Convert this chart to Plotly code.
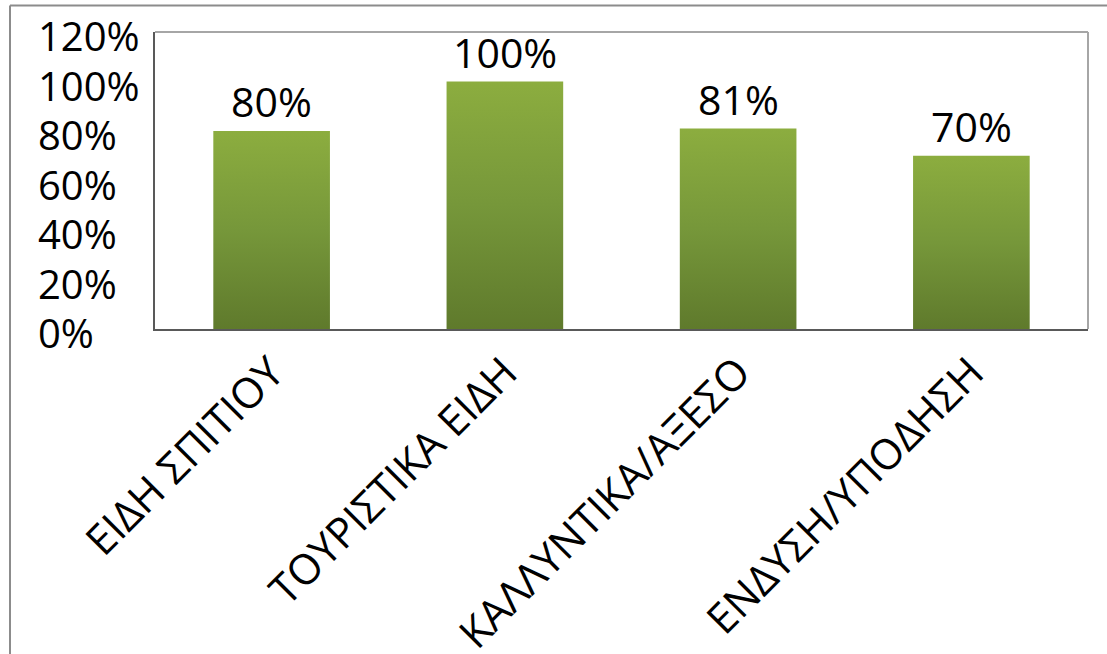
import plotly.graph_objects as go

# Data
categories = ["ΕΙΔΗ ΣΠΙΤΙΟΥ", "ΤΟΥΡΙΣΤΙΚΑ ΕΙΔΗ", "ΚΑΛΛΥΝΤΙΚΑ/ΑΞΕΣΟ", "ΕΝΔΥΣΗ/ΥΠΟΔΗΣΗ"]
values = [80, 100, 81, 70]
y_ticks = [0, 20, 40, 60, 80, 100, 120]

W, H = 1107, 654
ML, MR, MT, MB = 155, 19, 32, 325
PW, PH = W - ML - MR, H - MT - MB

FONT = "Open Sans"
BAR_HALF = 0.25
grad = dict(type="vertical", colorscale=[[0, "#5f7a2c"], [0.5, "#76973a"], [1, "#8cad3f"]])

fig = go.Figure()

# Bars with a vertical green gradient, one closed shape per category value
for i, v in enumerate(values):
    fig.add_trace(go.Scatter(
        x=[i - BAR_HALF, i - BAR_HALF, i + BAR_HALF, i + BAR_HALF, i - BAR_HALF],
        y=[0, v, v, 0, 0],
        mode="lines", fill="toself", fillgradient=grad,
        line=dict(width=0), hoverinfo="skip", showlegend=False,
    ))

# Value labels above bars
for i, v in enumerate(values):
    fig.add_annotation(x=i, y=v, xref="x", yref="y", text=f"{v}%",
                       showarrow=False, yanchor="bottom", yshift=0,
                       font=dict(family=FONT, size=41, color="#000000"))

# Left-aligned y tick labels (compact boxes so neighbours don't collide)
for t in y_ticks:
    fig.add_annotation(x=(37 - ML) / PW, y=t, xref="paper", yref="y", text=f"{t}%",
                       showarrow=False, xanchor="left", yanchor="middle", yshift=-3,
                       height=44, valign="middle", borderpad=0,
                       font=dict(family=FONT, size=40, color="#000000"))

# Plot-area border (top and right) and outer chart frame
fig.add_shape(type="line", xref="paper", yref="paper", x0=0, x1=1, y0=1, y1=1,
              line=dict(color="#a6a6a6", width=2))
fig.add_shape(type="line", xref="paper", yref="paper", x0=1, x1=1, y0=0, y1=1,
              line=dict(color="#a6a6a6", width=2))
fx0 = (10 - ML) / PW
fy0 = (H - MB - 5.5) / PH
fig.add_shape(type="line", xref="paper", yref="paper", x0=fx0, x1=(W - ML) / PW + 0.01,
              y0=fy0, y1=fy0, line=dict(color="#8c8c8c", width=2))
fig.add_shape(type="line", xref="paper", yref="paper", x0=fx0, x1=fx0,
              y0=fy0, y1=-(MB + 5) / PH, line=dict(color="#8c8c8c", width=2))

fig.update_layout(
    width=W, height=H,
    margin=dict(l=ML, r=MR, t=MT, b=MB, autoexpand=False),
    paper_bgcolor="white", plot_bgcolor="white",
    font=dict(family=FONT, color="#000000"),
    xaxis=dict(range=[-0.5, len(categories) - 0.5], tickmode="array",
               tickvals=list(range(len(categories))), ticktext=categories,
               tickangle=-45, tickfont=dict(family=FONT, size=42, color="#000000"),
               showgrid=False, zeroline=False, showline=True, linecolor="#595959",
               linewidth=2, ticks="", automargin=False, fixedrange=True),
    yaxis=dict(range=[0, 120], showticklabels=False, showgrid=False, zeroline=False,
               showline=True, linecolor="#595959", linewidth=2, ticks="",
               automargin=False, fixedrange=True),
)

fig.write_html("out.html")
